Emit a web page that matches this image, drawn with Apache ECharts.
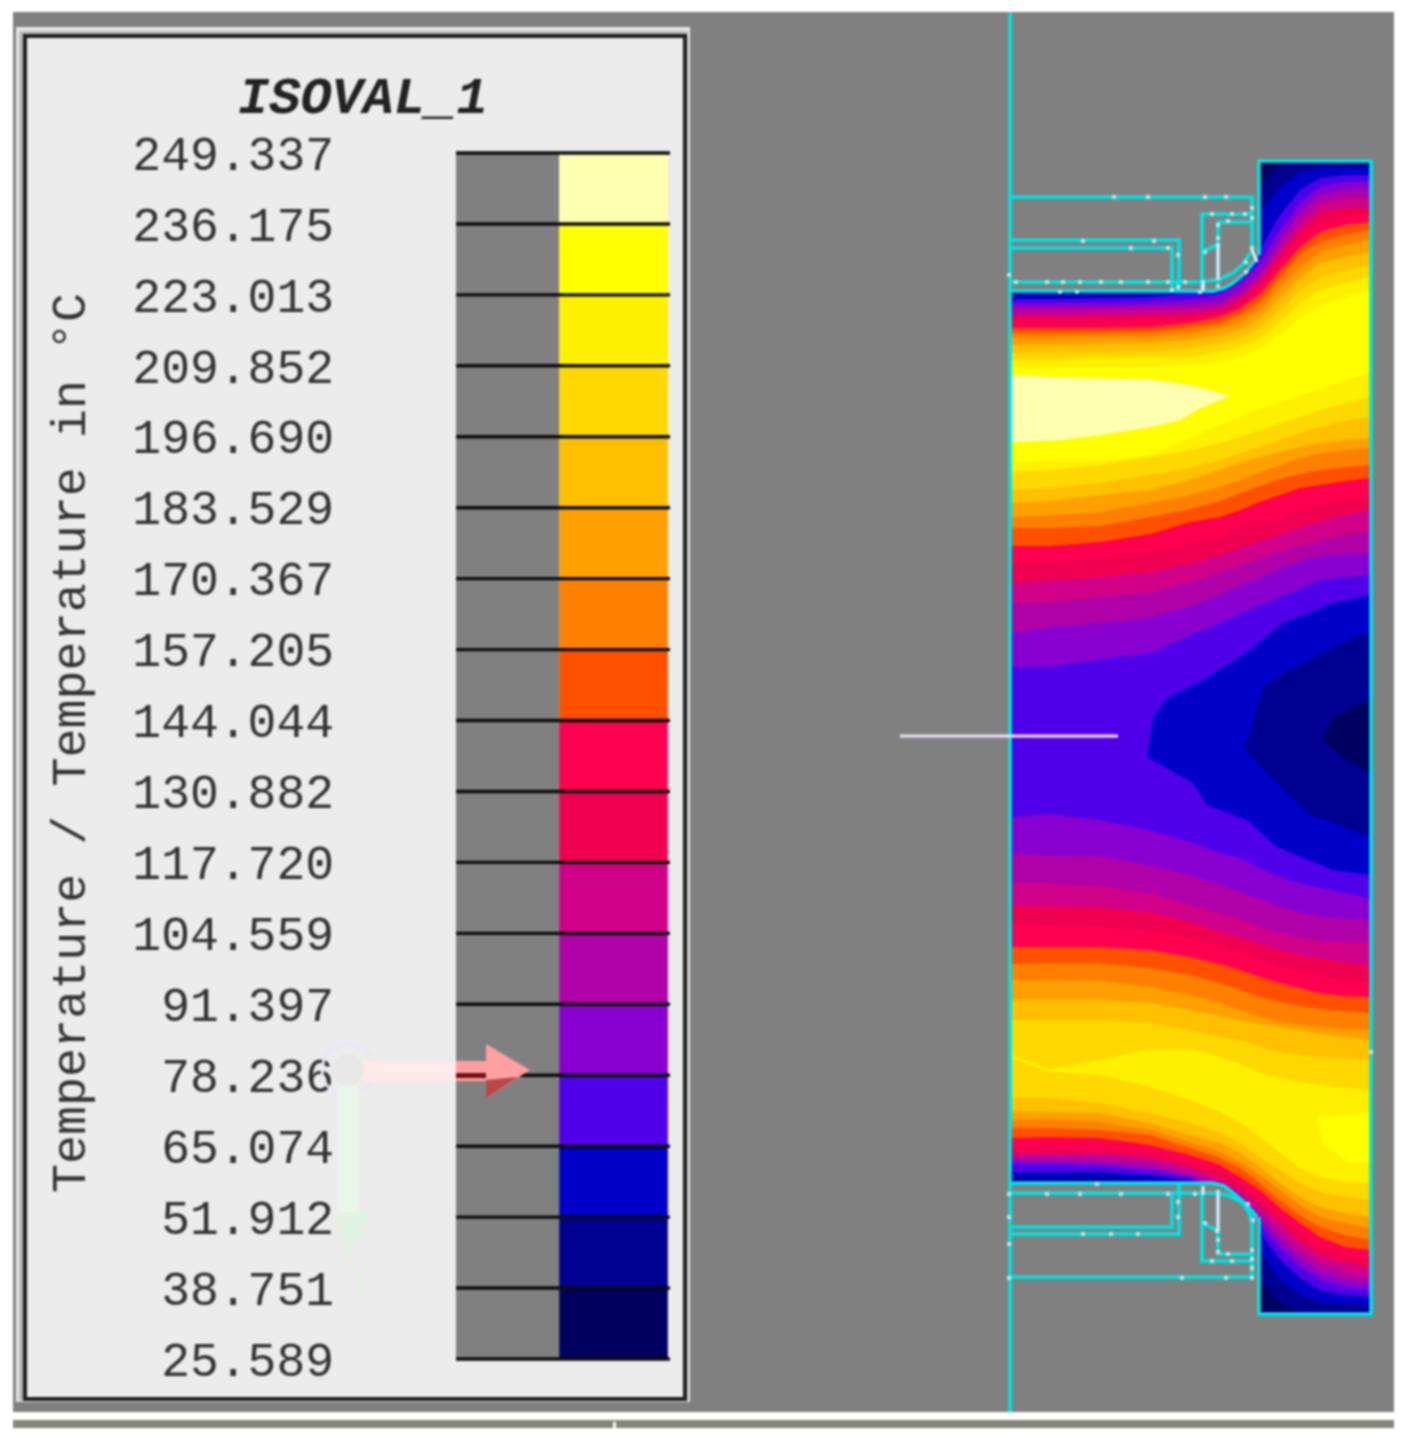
<!DOCTYPE html>
<html><head><meta charset="utf-8">
<style>html,body{margin:0;padding:0;background:#fff}#main{width:1404px;height:1442px;filter:blur(0.9px)}</style>
<script src="https://cdn.jsdelivr.net/npm/echarts@6/dist/echarts.min.js"></script>
</head><body><div id="main"></div>
<script>
const tickValues=[249.337,236.175,223.013,209.852,196.690,183.529,170.367,157.205,144.044,130.882,117.720,104.559,91.397,78.236,65.074,51.912,38.751,25.589];
const bandColors=['#ffffb0','#ffff00','#fff000','#ffd800','#ffc000','#ffa000','#ff8000','#ff5000','#ff0050','#f00050','#d00088','#b000a8','#8800d0','#5000e8','#0000c8','#000090','#000060'];
const columns=[1011,1050,1100,1150,1190,1220,1240,1260,1280,1300,1320,1345,1370];
const centreLine=737;
// Isotherm positions per column; the row index + 2 is the contour number (2 = 223.0, 16 = 38.8)
const upperOuter=[
[368,368,367,367,365,362,357,348,335,318,305,297,290],
[360,360,358,357,357,352,347,338,322,303,290,283,277],
[353,353,352,351,348,343,338,328,310,290,277,270,265],
[345,345,344,343,340,335,330,318,298,278,263,257,252],
[338,338,337,337,334,328,322,310,288,268,252,245,240],
[333,333,333,332,328,323,315,302,278,255,242,235,230],
[328,328,328,327,323,317,309,294,270,247,232,225,222],
[322,322,322,320,318,314,305,288,263,238,222,216,214],
[317,317,316,315,314,310,300,282,255,230,212,208,207],
[312,312,311,310,309,306,295,277,248,222,203,199,197],
[307,307,307,306,305,302,290,272,240,212,195,190,189],
[303,303,303,302,300,295,283,263,230,203,187,182,181],
[299,299,298,297,292,287,273,250,215,190,178,175,175],
[294,294,294,293,293,293,292,212,187,172,168,167,167],
[293,293,293,293,293,293,293,185,165,162,162,162,162]];
const upperInner=[
[462,461,461,455,438,425,417,409,402,395,390,380,373],
[472,470,465,457,450,443,437,430,423,417,410,403,397],
[490,488,483,475,468,460,453,447,440,433,427,421,417],
[503,501,495,490,480,470,463,457,452,447,443,440,438],
[517,515,512,503,495,487,480,472,465,458,453,450,448],
[528,528,526,517,509,501,493,486,479,474,470,467,465],
[546,546,542,534,522,517,510,502,495,488,485,481,478],
[563,562,558,552,543,535,528,523,517,510,505,500,495],
[583,580,577,572,563,555,548,541,534,527,521,515,510],
[603,602,597,592,582,572,565,558,551,546,540,535,532],
[633,627,623,617,606,594,585,577,568,560,556,554,553],
[667,666,659,653,635,623,613,605,597,588,580,577,575]];
const lowerInner=[
[737,737,737,737,737,737,737,737,737,737,737,737,737],
[1055,1069,1060,1049,1049,1057,1064,1073,1078,1082,1085,1088,1090],
[1020,1020,1020,1023,1030,1037,1040,1047,1052,1055,1057,1058,1060],
[1000,1000,1000,1003,1010,1016,1020,1024,1027,1030,1034,1037,1040],
[980,980,981,987,995,1003,1010,1017,1022,1025,1027,1029,1030],
[964,963,963,968,975,983,990,997,1002,1006,1009,1011,1013],
[947,947,947,950,957,964,970,977,983,988,993,996,997],
[925,926,927,932,938,945,952,960,967,972,976,980,983],
[905,906,907,912,922,932,937,944,950,955,958,962,965],
[883,883,886,893,905,913,920,927,933,937,940,942,943],
[853,855,856,865,875,885,892,899,907,912,916,918,920],
[817,814,820,830,842,853,858,868,877,883,888,893,898]];
const lowerOuter=[
[1058,1072,1075,1087,1100,1112,1123,1137,1153,1168,1177,1182,1183],
[1098,1098,1103,1113,1123,1133,1143,1157,1170,1183,1192,1197,1200],
[1112,1112,1113,1123,1135,1143,1153,1167,1183,1197,1207,1213,1217],
[1120,1119,1122,1130,1142,1152,1162,1175,1190,1205,1217,1223,1228],
[1128,1128,1130,1135,1148,1158,1168,1183,1200,1215,1227,1235,1240],
[1138,1137,1138,1145,1155,1165,1177,1190,1208,1223,1237,1247,1250],
[1148,1148,1148,1152,1162,1172,1183,1198,1217,1233,1247,1255,1260],
[1153,1153,1153,1157,1167,1178,1190,1205,1223,1242,1255,1263,1268],
[1157,1157,1157,1162,1172,1183,1195,1212,1232,1250,1263,1272,1277],
[1160,1160,1162,1167,1176,1188,1200,1218,1240,1258,1272,1280,1283],
[1164,1164,1166,1170,1177,1192,1205,1225,1248,1267,1280,1287,1290],
[1172,1172,1171,1175,1180,1183,1197,1233,1260,1278,1290,1295,1297],
[1177,1177,1177,1180,1182,1183,1193,1250,1280,1295,1302,1304,1305],
[1182,1182,1182,1182,1182,1183,1190,1280,1303,1313,1313,1313,1313]];
// Closed isotherm regions
const hotBlob=[[1011,375],[1060,377],[1100,378],[1150,379],[1190,385],[1210,390],[1230,396],[1200,408],[1180,420],[1150,427],[1100,435],[1060,440],[1011,442]];
const lowerYellowBlob=[[1317,1117],[1370,1113],[1370,1163],[1350,1163],[1323,1143]];
const coldBlob65=[[1150,740],[1153,717],[1167,698],[1203,680],[1250,650],[1283,623],[1333,603],[1370,595],[1370,875],[1333,870],[1277,847],[1247,820],[1207,805],[1193,783],[1147,757]];
const coldBlob52=[[1247,740],[1263,687],[1283,673],[1333,647],[1370,630],[1370,837],[1307,813],[1267,773],[1243,747]];
const coldBlob39=[[1323,740],[1333,717],[1370,700],[1370,772],[1347,760]];
// Part geometry
const bodyOutline=[[1011,162],[1370,162],[1370,1313],[1011,1313]];
const upperCutout=[[1005,160],[1259,160],[1259,255],[1250,267],[1233,283],[1213,291],[1005,291]];
const lowerCutout=[[1005,1183],[1213,1183],[1233,1193],[1257,1217],[1259,1315],[1005,1315]];
const meshLines=[
[[1010,13],[1010,1412]],
[[1259,255],[1259,161],[1371,161],[1371,1314],[1259,1314],[1259,1217]],
[[1010,197],[1252,197],[1252,253]],
[[1010,240],[1179,240],[1179,290]],
[[1010,248],[1172,248],[1172,290]],
[[1010,282],[1203,282],[1220,279],[1233,273],[1243,264],[1250,253]],
[[1010,291],[1213,291],[1224,288],[1233,283],[1246,272],[1257,257]],
[[1202,287],[1202,214],[1252,214]],
[[1218,283],[1218,222],[1252,222]],
[[1205,250],[1218,245]],
[[1010,1183],[1213,1183],[1224,1186],[1233,1193],[1246,1204],[1257,1217]],
[[1010,1193],[1217,1193],[1230,1196],[1243,1203],[1249,1212],[1252,1223],[1252,1277],[1010,1277]],
[[1010,1227],[1172,1227],[1172,1193]],
[[1010,1234],[1179,1234],[1179,1183]],
[[1202,1190],[1202,1261],[1252,1261]],
[[1218,1190],[1218,1254],[1252,1254]],
[[1205,1224],[1218,1231]]];
const whiteLines=[
[[900,736],[1118,736]],
[[1218,245],[1218,280]],
[[1218,1190],[1218,1231]],
[[1252,250],[1257,262]],
[[1203,280],[1203,291]],
[[1203,1186],[1203,1195]]];
const meshNodes=[[1114,197],[1148,197],[1205,197],[1226,197],[1252,208],[1252,218],[1212,214],[1232,214],[1245,214],[1228,221],[1218,225],[1218,238],[1218,245],[1205,252],[1083,241],[1154,241],[1131,248],[1168,248],[1178,255],[1009,275],[1016,282],[1047,282],[1063,282],[1080,282],[1101,282],[1121,282],[1148,282],[1168,282],[1185,282],[1060,292],[1077,292],[1172,290],[1178,287],[1200,292],[1203,287],[1218,286],[1246,262],[1246,272],[1252,248],
[1097,1184],[1009,1194],[1047,1194],[1080,1194],[1121,1194],[1168,1194],[1195,1194],[1178,1202],[1205,1223],[1217,1231],[1218,1240],[1218,1252],[1228,1254],[1212,1261],[1232,1261],[1252,1250],[1252,1259],[1252,1268],[1009,1217],[1178,1217],[1009,1244],[1083,1234],[1111,1234],[1138,1234],[1009,1278],[1182,1278],[1226,1278],[1252,1278],[1371,1052],[1248,1204],[1253,1220]];
// Window furniture
const frameRects=[
[13,12,1394,1412,'#808080'],
[16,27,690,1402,'#e6e6e6'],
[19,31,688,1401,'#b8b8b8'],
[23,34,687,1401,'#1e1e1e'],
[27,38,683,1397,'#ececec'],
[13,1412,1394,1420,'#ffffff'],
[13,1420,1394,1428,'#84847c'],
[613,1422,616,1428,'#ffffff']];
// View triad overlay
const triadRects=[[338,1085,358,1215,'#e9f7e9'],[362,1061,456,1081,'#ffe9e9'],[456,1061,490,1081,'#ff9f9f'],[456,1073,490,1078,'#701010']];
const triadPolys=[[[[332,1212],[372,1212],[350,1258]],'#e3f3e3'],[[[486,1044],[530,1070],[486,1098]],'#ffa0a0'],[[[486,1080],[518,1077],[486,1098]],'#b84848']];

function band(top,bottom){return columns.map((x,i)=>[x,top[i]]).concat(columns.map((x,i)=>[x,bottom[i]]).reverse());}
const flat=columns.map(()=>centreLine);
const layers=[{pts:bodyOutline,fill:bandColors[16]}];
for(let k=upperOuter.length-1;k>=0;k--) layers.push({pts:band(upperOuter[k],flat),fill:bandColors[k+1]});
for(let k=lowerOuter.length-1;k>=0;k--) layers.push({pts:band(flat,lowerOuter[k]),fill:bandColors[k+2]});
for(let k=0;k<upperInner.length;k++) layers.push({pts:band(upperInner[k],lowerInner[k]),fill:bandColors[k+2]});
layers.push({pts:hotBlob,fill:bandColors[0]},{pts:lowerYellowBlob,fill:bandColors[1]},{pts:coldBlob65,fill:bandColors[14]},{pts:coldBlob52,fill:bandColors[15]},{pts:coldBlob39,fill:bandColors[16]});
layers.push({pts:upperCutout,fill:'#808080'},{pts:lowerCutout,fill:'#808080'});
meshLines.forEach(p=>layers.push({pts:p,stroke:'#00e4e4',width:3.6}));
whiteLines.forEach(p=>layers.push({pts:p,stroke:'#efe6f6',width:3}));

const mono='"Liberation Mono","DejaVu Sans Mono",monospace';
const chart=echarts.init(document.getElementById('main'));
function mapPts(api,pts){return pts.map(p=>api.coord(p));}
function rectShape(api,r){const a=api.coord([r[0],r[1]]),b=api.coord([r[2],r[3]]);return {x:a[0],y:a[1],width:b[0]-a[0],height:b[1]-a[1]};}
chart.setOption({
  animation:false,
  backgroundColor:'#ffffff',
  title:{text:'ISOVAL_1',left:233,top:69,textStyle:{fontFamily:mono,fontStyle:'italic',fontWeight:'bold',fontSize:52,color:'#222222'}},
  grid:[{left:0,top:0,width:1404,height:1442},{left:456,top:153,width:214,height:1206}],
  xAxis:[{type:'value',min:0,max:1404,show:false},{gridIndex:1,type:'value',min:0,max:1,show:false}],
  yAxis:[{type:'value',min:0,max:1442,inverse:true,show:false},
    {gridIndex:1,type:'value',min:25.589,max:249.337,z:1,
     name:'Temperature / Temperature in °C',nameLocation:'middle',nameGap:360,
     nameTextStyle:{fontFamily:mono,fontSize:48.4,color:'#333333',padding:[0,0,0,26]},
     axisLine:{show:false},axisTick:{show:false},splitLine:{show:false},
     axisLabel:{customValues:tickValues,margin:122,fontFamily:mono,fontSize:48,color:'#333333',verticalAlign:'top',lineHeight:8,formatter:v=>v.toFixed(3)}}],
  series:[
   {type:'custom',name:'frame',z:0,silent:true,clip:false,coordinateSystem:'cartesian2d',data:frameRects.map(r=>[r[0],r[1]]),
    renderItem:(p,api)=>{const r=frameRects[p.dataIndex];return {type:'rect',shape:rectShape(api,r),style:{fill:r[4]}};}},
   {type:'custom',name:'field',z:2,silent:true,clip:false,coordinateSystem:'cartesian2d',data:layers.map(l=>l.pts[0]),
    renderItem:(p,api)=>{const l=layers[p.dataIndex];
      return l.fill?{type:'polygon',shape:{points:mapPts(api,l.pts)},style:{fill:l.fill}}
                   :{type:'polyline',shape:{points:mapPts(api,l.pts)},style:{stroke:l.stroke,lineWidth:l.width,fill:null}};}},
   {type:'scatter',name:'nodes',z:3,silent:true,symbolSize:4.5,itemStyle:{color:'#eeeeee'},data:meshNodes},
   {type:'custom',name:'scale',z:2,silent:true,clip:false,xAxisIndex:1,yAxisIndex:1,coordinateSystem:'cartesian2d',
    data:tickValues.slice(0,-1).map((v,i)=>[0,v]),
    renderItem:(p,api)=>{const i=p.dataIndex,hi=tickValues[i],lo=tickValues[i+1];
      const a=api.coord([0,hi]),m=api.coord([0.482,hi]),e=api.coord([0.99,lo]);
      return {type:'group',children:[
        {type:'rect',shape:{x:a[0],y:a[1],width:m[0]-a[0],height:e[1]-a[1]},style:{fill:'#808080'}},
        {type:'rect',shape:{x:m[0],y:a[1],width:e[0]-m[0],height:e[1]-a[1]},style:{fill:bandColors[i]}}]};}},
   {type:'custom',name:'scaleLines',z:3,silent:true,clip:false,xAxisIndex:1,yAxisIndex:1,coordinateSystem:'cartesian2d',
    data:tickValues.map(v=>[0,v]),
    renderItem:(p,api)=>{const a=api.coord([0,tickValues[p.dataIndex]]),b=api.coord([1,tickValues[p.dataIndex]]);
      return {type:'line',shape:{x1:a[0],y1:a[1],x2:b[0],y2:b[1]},style:{stroke:'#0c0c0c',lineWidth:3.4}};}},
   {type:'custom',name:'triad',z:5,silent:true,clip:false,coordinateSystem:'cartesian2d',data:[[348,1070]],
    renderItem:(p,api)=>{const c=api.coord([348,1070]);
      const kids=[{type:'circle',shape:{cx:c[0],cy:c[1],r:26},style:{fill:null,stroke:'#e8e8f6',lineWidth:3}}];
      triadRects.forEach(r=>kids.push({type:'rect',shape:rectShape(api,r),style:{fill:r[4]}}));
      triadPolys.forEach(t=>kids.push({type:'polygon',shape:{points:mapPts(api,t[0])},style:{fill:t[1]}}));
      kids.push({type:'circle',shape:{cx:c[0],cy:c[1],r:16},style:{fill:'#e8e8e8'}});
      const y=api.coord([360,1280]);
      kids.push({type:'text',style:{x:y[0],y:y[1],text:'Y',fill:'#e3f3e3',font:'40px "Liberation Sans"',align:'center',verticalAlign:'middle'}});
      return {type:'group',children:kids};}}
  ]
});
</script></body></html>
